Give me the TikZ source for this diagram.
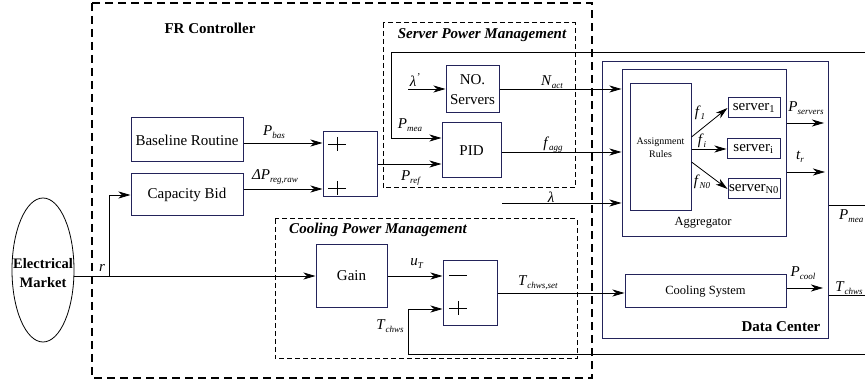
\documentclass[tikz,border=0pt]{standalone}
\usepackage{fontspec}
\setmainfont{Liberation Serif}
\usetikzlibrary{arrows.meta,shapes.geometric}
\definecolor{navy}{RGB}{35,35,90}
\newcommand{\vsym}[2]{\textit{#1}\raisebox{-0.45ex}{\fontsize{9}{9}\selectfont\textit{#2}}}
\begin{document}
\begin{tikzpicture}[x=1pt,y=-1pt, font=\fontsize{15}{18}\selectfont,
 box/.style={draw=navy, line width=1pt, inner sep=0pt, align=center},
 ln/.style={line width=0.8pt},
 arr/.style={ln, -{Stealth[length=12pt,width=7pt,inset=3.5pt]}},
 lbl/.style={inner sep=0pt},
 outerdash/.style={line width=1.6pt, dash pattern=on 8pt off 5pt},
 innerdash/.style={line width=1pt, dash pattern=on 5pt off 3pt}]
\useasboundingbox (0,0) rectangle (865,387);

% dashed frames
\draw[outerdash] (92,3) rectangle (592,378);
\draw[innerdash] (383,23) rectangle (575,188);
\draw[innerdash] (275,219) rectangle (577,359);

% titles
\node[lbl, font=\fontsize{15}{18}\selectfont\bfseries] (tFR) at (210,28) {FR Controller};
\node[lbl, font=\fontsize{15}{18}\selectfont\bfseries\itshape] (tSPM) at (482,35) {Server Power Management};
\node[lbl, font=\fontsize{15}{18}\selectfont\bfseries\itshape] (tCPM) at (378,230) {Cooling Power Management};

% market
\node[draw, ellipse, line width=0.8pt, minimum width=62pt, minimum height=144pt, inner sep=0pt] (market) at (43,270) {};
\node[lbl, align=center, font=\fontsize{14.5}{19}\selectfont\bfseries] (tmarket) at (43,273) {Electrical\\Market};

% controller boxes
\node[box, minimum width=112pt, minimum height=44pt] (base) at (187,140) {Baseline Routine};
\node[box, minimum width=112pt, minimum height=42pt] (cap) at (187,195) {Capacity Bid};
\node[box, minimum width=54pt, minimum height=65pt] (sum1) at (350,164.5) {};
\node[box, minimum width=53pt, minimum height=47pt, font=\fontsize{15}{20}\selectfont] (nos) at (472.5,89.5) {NO.\\Servers};
\node[box, minimum width=59pt, minimum height=55pt] (pid) at (471.5,150.5) {PID};
\node[box, minimum width=71pt, minimum height=63pt] (gain) at (351.5,276) {Gain};
\node[box, minimum width=54pt, minimum height=65pt] (sum2) at (470,293.5) {};

% data center
\node[box, minimum width=226pt, minimum height=277pt] (dc) at (715,200.5) {};
\node[box, minimum width=164pt, minimum height=167pt] (agg) at (704,153.5) {};
\node[box, minimum width=61pt, minimum height=127pt, font=\fontsize{10}{13}\selectfont] (ar) at (660.5,147.5) {Assignment\\Rules};
\node[box, minimum width=52pt, minimum height=20pt] (s1) at (754,108) {server\textsubscript{1}};
\node[box, minimum width=53pt, minimum height=20pt] (si) at (753.5,149) {server\textsubscript{i}};
\node[box, minimum width=52pt, minimum height=20pt] (sn) at (754,189) {server\textsubscript{N0}};
\node[box, minimum width=161pt, minimum height=33pt, font=\fontsize{12.5}{15}\selectfont] (cool) at (705.5,291.5) {Cooling System};
\node[lbl, font=\fontsize{12.5}{15}\selectfont] (tagg) at (703,223) {Aggregator};
\node[lbl, font=\fontsize{15}{18}\selectfont\bfseries] (tdc) at (781,327) {Data Center};

% plus / minus signs
\draw[ln] (328,144) -- (346,144) (337,137) -- (337,151);
\draw[ln] (328,188) -- (346,188) (337,181) -- (337,195);
\draw[ln] (449,275) -- (467,275);
\draw[ln] (449,308) -- (467,308) (458,301) -- (458,315);

% connectors
\draw[arr] (base.east |- 0,143) -- (sum1.west |- 0,143);
\draw[arr] (cap.east |- 0,189) -- (sum1.west |- 0,189);
\draw[arr] (sum1.east |- 0,164) -- (pid.west |- 0,164);
\coordinate (fbR) at (865,52);
\coordinate (fbL) at (391,138);
\draw[arr] (fbR) -| (fbL) -- (pid.west |- fbL);
\coordinate (lamp) at (408,89);
\draw[arr] (lamp) -- (nos.west |- lamp);
\draw[arr] (nos.east |- 0,89) -- (agg.west |- 0,89);
\draw[arr] (pid.east |- 0,152) -- (agg.west |- 0,152);
\coordinate (lam) at (502,203);
\draw[arr] (lam) -- (agg.west |- lam);
\draw[arr] (ar.east |- 0,137) -- (s1.west);
\draw[arr] (ar.east |- 0,149) -- (si.west);
\draw[arr] (ar.east |- 0,162) -- (sn.west);
\coordinate (psR) at (824,123);
\draw[arr] (agg.east |- psR) -- (psR);
\coordinate (trR) at (825,172);
\draw[arr] (agg.east |- trR) -- (trR);
\coordinate (pcR) at (823,288);
\draw[arr] (cool.east |- pcR) -- (pcR);
\draw[arr] (sum2.east |- 0,293) -- (cool.west |- 0,293);
\draw[arr] (gain.east) -- (sum2.west |- gain.east);
\draw[arr] (market.east |- gain.west) -- (gain.west);
\coordinate (rb) at (109,276);
\draw[arr] (rb) |- (cap.west);
\coordinate (tcR) at (865,354);
\coordinate (tc) at (408,309);
\draw[arr] (tcR) -| (tc) -- (sum2.west |- tc);
\coordinate (pmR) at (865,205);
\draw[ln] (dc.east |- pmR) -- (pmR);
\coordinate (tcwR) at (865,295);
\draw[ln] (dc.east |- tcwR) -- (tcwR);

% labels
\node[lbl] (lPbas) at (274,132) {\vsym{P}{bas}};
\node[lbl] (lDP) at (275,177) {\vsym{ΔP}{reg,raw}};
\node[lbl] (llamp) at (415,80) {\textit{λ}\textsuperscript{\textit{'}}};
\node[lbl] (lNact) at (552,82) {\vsym{N}{act}};
\node[lbl] (lPmea) at (410,125) {\vsym{P}{mea}};
\node[lbl] (lfagg) at (553,145) {\vsym{f}{agg}};
\node[lbl] (lPref) at (411,178) {\vsym{P}{ref}};
\node[lbl] (llam) at (551,197) {\textit{λ}};
\node[lbl] (lf1) at (700,113) {\vsym{f}{1}};
\node[lbl] (lfi) at (702,141) {\vsym{f}{i}};
\node[lbl] (lfn) at (702,182) {\vsym{f}{N0}};
\node[lbl] (lPs) at (806,108) {\vsym{P}{servers}};
\node[lbl] (ltr) at (800,157) {\vsym{t}{r}};
\node[lbl] (lPcool) at (803,273) {\vsym{P}{cool}};
\node[lbl, anchor=west] (lPmeaR) at (839,216) {\vsym{P}{mea}};
\node[lbl] (lTchR) at (849,288) {\vsym{T}{chws}};
\node[lbl] (lr) at (102,268) {\textit{r}};
\node[lbl] (luT) at (417,264) {\vsym{u}{T}};
\node[lbl] (lTset) at (538,283) {\vsym{T}{chws,set}};
\node[lbl] (lTch) at (390,326) {\vsym{T}{chws}};
\end{tikzpicture}
\end{document}
